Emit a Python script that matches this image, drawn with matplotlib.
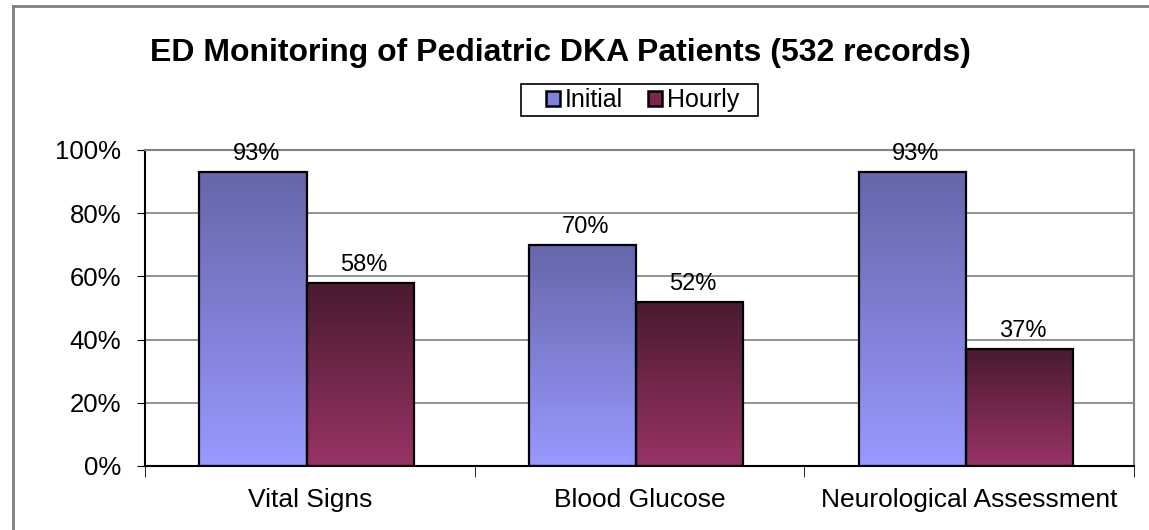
import numpy as np
import matplotlib
matplotlib.use("Agg")
from matplotlib import pyplot as plt
from matplotlib.colors import LinearSegmentedColormap
from matplotlib.patches import Rectangle

plt.rcParams['font.family'] = ['Liberation Sans', 'DejaVu Sans']

categories = ['Vital Signs', 'Blood Glucose', 'Neurological Assessment']
initial = [93, 70, 93]
hourly = [58, 52, 37]
series_names = ['Initial', 'Hourly']
yticks = [0, 20, 40, 60, 80, 100]

# gradient colours (bottom -> top)
initial_cmap = LinearSegmentedColormap.from_list('ini', ['#9999ff', '#6666aa'])
hourly_cmap = LinearSegmentedColormap.from_list('hr', ['#993366', '#4a1a30'])


def gradient_bars(ax, xs, heights, width, cmap):
    grad = np.linspace(0, 1, 256).reshape(-1, 1)
    for x, h in zip(xs, heights):
        ax.imshow(grad, cmap=cmap, origin='lower', aspect='auto',
                  extent=(x, x + width, 0, h), zorder=2, interpolation='bicubic')
        ax.add_patch(Rectangle((x, 0), width, h, facecolor='none',
                               edgecolor='black', linewidth=1.6, zorder=3))
        ax.text(x + width / 2 + 0.01, h + 2.2, '%d%%' % h, ha='center', va='bottom',
                fontsize=17, zorder=4)


def main():
    fig = plt.figure(figsize=(11.49, 5.30), dpi=100)
    ax = fig.add_axes([0.1262, 0.1208, 0.8607, 0.5962])

    n = len(categories)
    pos = np.arange(n) - 0.01
    w = 0.325
    gradient_bars(ax, pos - w, initial, w, initial_cmap)
    gradient_bars(ax, pos, hourly, w, hourly_cmap)

    ax.set_xlim(-0.5, n - 0.5)
    ax.set_ylim(0, 100)
    ax.set_yticks(yticks)
    ax.set_yticklabels(['%d%%' % t for t in yticks], fontsize=18.5)
    ax.yaxis.grid(True, color='#808080', linewidth=1.2, zorder=0)
    ax.set_axisbelow(True)

    ax.set_xticks(np.arange(n))
    ax.set_xticklabels(categories, fontsize=19)
    ax.tick_params(axis='x', length=0, pad=16)
    ax.set_xticks(np.arange(n + 1) - 0.5, minor=True)
    ax.tick_params(axis='x', which='minor', length=8, direction='out', color='black')
    ax.tick_params(axis='y', length=6, direction='out', pad=11)

    ax.spines['left'].set_color('black')
    ax.spines['bottom'].set_color('black')
    ax.spines['top'].set_color('#808080')
    ax.spines['right'].set_color('#808080')
    for s in ax.spines.values():
        s.set_linewidth(1.5)

    # legend (frame drawn separately so the side padding matches)
    handles = [Rectangle((0, 0), 1, 1, facecolor='#8080dd', edgecolor='black', linewidth=1.8),
               Rectangle((0, 0), 1, 1, facecolor='#7a2650', edgecolor='black', linewidth=1.8)]
    fig.legend(handles, series_names, loc='center', bbox_to_anchor=(0.5592, 0.8113),
               ncol=2, fontsize=18, frameon=False,
               handlelength=0.55, handleheight=0.55, handletextpad=0.2,
               columnspacing=1.0, borderpad=0.1)
    fig.add_artist(Rectangle((0.4534, 0.7811), 0.2063, 0.0604, transform=fig.transFigure,
                             facecolor='none', edgecolor='black', linewidth=1.2))

    fig.text(0.488, 0.900, 'ED Monitoring of Pediatric DKA Patients (532 records)',
             ha='center', va='center', fontsize=23, fontweight='bold')

    # outer chart border (left and top visible)
    fig.add_artist(plt.Line2D([0.0113, 0.0113], [0, 0.989], color='#808080', linewidth=2,
                              transform=fig.transFigure))
    fig.add_artist(plt.Line2D([0.0113, 1], [0.989, 0.989], color='#808080', linewidth=2,
                              transform=fig.transFigure))

    fig.savefig('out.png', dpi=100)


if __name__ == "__main__":
    main()
